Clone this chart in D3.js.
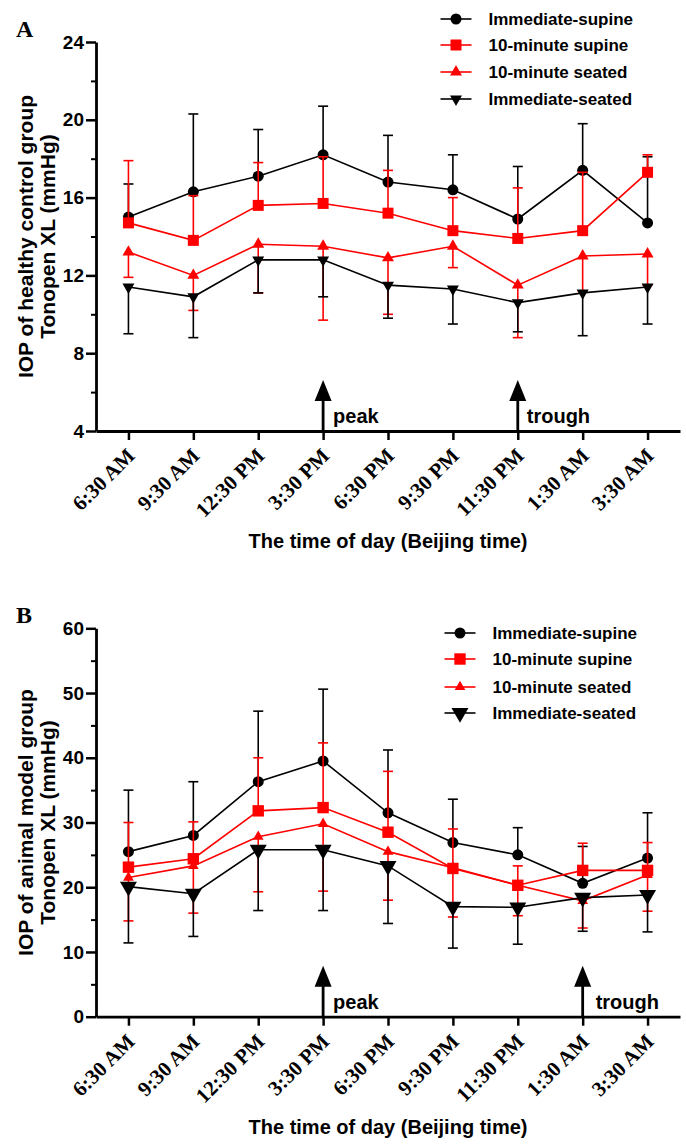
<!DOCTYPE html>
<html>
<head>
<meta charset="utf-8">
<script src="https://cdn.jsdelivr.net/npm/d3@7"></script>
<style>
  body { margin: 0; background: #fff; }
  svg { display: block; }
</style>
</head>
<body>
<svg id="chart" width="686" height="1146"></svg>
<script>
// ---- data ----
const timeLabels = ['6:30 AM', '9:30 AM', '12:30 PM', '3:30 PM', '6:30 PM', '9:30 PM', '11:30 PM', '1:30 AM', '3:30 AM'];
const seriesNames = ['Immediate-supine', '10-minute supine', '10-minute seated', 'Immediate-seated'];

// A: healthy control group (mean, SD)
const healthyImmSupine = [15.0, 16.3, 17.1, 18.2, 16.8, 16.4, 14.9, 17.4, 14.7];
const healthyImmSupineSD = [1.7, 4.0, 2.4, 2.5, 2.4, 1.8, 2.7, 2.4, 3.4];
const healthySupine10 = [14.7, 13.8, 15.6, 15.7, 15.2, 14.3, 13.9, 14.3, 17.3];
const healthySupine10SD = [3.2, 2.3, 2.2, 2.4, 2.2, 1.7, 2.6, 3.0, 0.9];
const healthySeated10 = [13.2, 12.0, 13.6, 13.5, 12.9, 13.5, 11.5, 13.0, 13.1];
const healthySeated10SD = [1.3, 1.8, 2.5, 3.8, 2.9, 1.1, 2.7, 1.8, 1.6];
const healthyImmSeated = [11.4, 10.9, 12.8, 12.8, 11.5, 11.3, 10.6, 11.1, 11.4];
const healthyImmSeatedSD = [2.4, 2.1, 1.7, 1.9, 1.7, 1.8, 1.5, 2.2, 1.9];
const healthyYTicks = [4, 8, 12, 16, 20, 24];
const healthyMarks = [{ text: 'peak', at: '3:30 PM' }, { text: 'trough', at: '11:30 PM' }];

// B: animal model group (mean, SD)
const animalImmSupine = [25.5, 28.0, 36.3, 39.5, 31.5, 26.9, 25.0, 20.6, 24.5];
const animalImmSupineSD = [9.5, 8.3, 10.9, 11.1, 9.7, 6.7, 4.2, 5.7, 7.0];
const animalSupine10 = [23.1, 24.4, 31.8, 32.3, 28.5, 22.9, 20.3, 22.6, 22.6];
const animalSupine10SD = [6.9, 5.7, 8.2, 10.0, 9.4, 6.1, 3.0, 4.2, 4.3];
const animalSeated10 = [21.5, 23.3, 27.8, 29.8, 25.5, 23.0, 20.3, 17.9, 21.9];
const animalSeated10SD = [6.7, 7.3, 8.5, 10.4, 7.5, 7.6, 4.7, 4.2, 5.6];
const animalImmSeated = [20.1, 19.0, 25.8, 25.8, 23.3, 17.0, 16.9, 18.4, 18.8];
const animalImmSeatedSD = [8.7, 6.6, 9.4, 9.4, 8.9, 6.4, 5.7, 5.2, 5.7];
const animalYTicks = [0, 10, 20, 30, 40, 50, 60];
const animalMarks = [{ text: 'peak', at: '3:30 PM' }, { text: 'trough', at: '1:30 AM' }];

// ---- styles ----
const SANS = '"Liberation Sans", Arial, Helvetica, sans-serif';
const SERIF = '"Liberation Serif", "Times New Roman", serif';
const RED = '#ff0000';

const svg = d3.select('#chart');
svg.append('rect').attr('width', 686).attr('height', 1146).attr('fill', '#fff');

const xScale = d3.scalePoint().domain(timeLabels).range([96, 680]).padding(0.5);

function markerPath(kind, size) {
  const type = kind === 'circle' ? d3.symbolCircle : kind === 'square' ? d3.symbolSquare : d3.symbolTriangle;
  return d3.symbol().type(type).size(size)();
}

function drawPanel(cfg) {
  const g = svg.append('g').attr('class', 'panel-' + cfg.label);
  const yScale = d3.scaleLinear().domain(d3.extent(cfg.yTicks)).range([cfg.bottom, cfg.top]);

  // panel letter
  g.append('text')
    .attr('x', 16).attr('y', cfg.top - 5)
    .style('font-family', SERIF).style('font-weight', 'bold').style('font-size', '24px')
    .text(cfg.label);

  // y axis minor ticks
  g.append('g')
    .attr('transform', 'translate(96,0)')
    .call(d3.axisLeft(yScale).tickValues(cfg.minorTicks).tickSize(5).tickSizeOuter(0).tickFormat(''))
    .call(a => a.select('.domain').remove())
    .call(a => a.selectAll('line').attr('stroke-width', 2));

  // y axis
  g.append('g')
    .attr('transform', 'translate(96,0)')
    .call(d3.axisLeft(yScale).tickValues(cfg.yTicks).tickSize(10).tickSizeOuter(0).tickPadding(2))
    .call(a => a.select('.domain').attr('stroke-width', 2.8))
    .call(a => a.selectAll('line').attr('stroke-width', 2.5))
    .call(a => a.selectAll('text')
      .style('font-family', SANS).style('font-weight', 'bold').style('font-size', '19px').attr('fill', '#000'));

  // x axis
  g.append('g')
    .attr('transform', `translate(0,${cfg.bottom})`)
    .call(d3.axisBottom(xScale).tickSize(9).tickSizeOuter(0))
    .call(a => a.select('.domain').attr('stroke-width', 2.8))
    .call(a => a.selectAll('line').attr('stroke-width', 2.5))
    .call(a => a.selectAll('text')
      .attr('y', 0).attr('dy', 0)
      .attr('text-anchor', 'end')
      .attr('transform', 'translate(7,26) rotate(-45)')
      .style('font-family', SERIF).style('font-weight', 'bold').style('font-size', '21px').attr('fill', '#000'));

  // axis titles
  const midY = (cfg.top + cfg.bottom) / 2;
  cfg.yTitle.forEach((line, i) => {
    g.append('text')
      .attr('transform', `translate(${33 + i * 22},${midY}) rotate(-90)`)
      .attr('text-anchor', 'middle')
      .style('font-family', SANS).style('font-weight', 'bold').style('font-size', '21px')
      .text(line);
  });
  g.append('text')
    .attr('x', 388).attr('y', cfg.bottom + 117)
    .attr('text-anchor', 'middle')
    .style('font-family', SANS).style('font-weight', 'bold').style('font-size', '20px')
    .text('The time of day (Beijing time)');

  // peak / trough arrows
  cfg.marks.forEach(m => {
    const ax = xScale(m.at);
    const tip = cfg.bottom - 51;
    g.append('line')
      .attr('x1', ax).attr('x2', ax).attr('y1', cfg.bottom).attr('y2', tip + 16)
      .attr('stroke', '#000').attr('stroke-width', 2.8);
    g.append('path')
      .attr('d', `M${ax},${tip} L${ax - 8.5},${tip + 21} L${ax + 8.5},${tip + 21} Z`)
      .attr('fill', '#000');
    g.append('text')
      .attr('x', ax + (m.dx || 10)).attr('y', cfg.bottom - 8)
      .style('font-family', SANS).style('font-weight', 'bold').style('font-size', '20px')
      .text(m.text);
  });

  // series: error bars, line, markers
  cfg.series.forEach(s => {
    const sg = g.append('g');
    const pts = s.values.map((v, i) => ({ x: xScale(timeLabels[i]), v, sd: s.sd[i] }));

    sg.selectAll('.err').data(pts).join('line')
      .attr('x1', d => d.x).attr('x2', d => d.x)
      .attr('y1', d => yScale(d.v))
      .attr('y2', d => yScale(d.v + s.dir * d.sd))
      .attr('stroke', s.color).attr('stroke-width', 1.6);
    sg.selectAll('.cap').data(pts).join('line')
      .attr('x1', d => d.x - 5).attr('x2', d => d.x + 5)
      .attr('y1', d => yScale(d.v + s.dir * d.sd))
      .attr('y2', d => yScale(d.v + s.dir * d.sd))
      .attr('stroke', s.color).attr('stroke-width', 1.6);

    sg.append('path')
      .datum(pts)
      .attr('d', d3.line().x(d => d.x).y(d => yScale(d.v)))
      .attr('fill', 'none').attr('stroke', s.color).attr('stroke-width', 1.6);

    sg.selectAll('.mk').data(pts).join('path')
      .attr('d', markerPath(s.shape, s.size))
      .attr('transform', d => `translate(${d.x},${yScale(d.v)})${s.flip ? ' rotate(180)' : ''}`)
      .attr('fill', s.color);
  });

  // legend
  cfg.series.forEach((s, i) => {
    const ly = cfg.legendY[i];
    const lx = cfg.legendX;
    g.append('line')
      .attr('x1', lx - 15.5).attr('x2', lx + 15.5).attr('y1', ly).attr('y2', ly)
      .attr('stroke', s.color).attr('stroke-width', 1.6);
    g.append('path')
      .attr('d', markerPath(s.shape, s.legendSize || s.size))
      .attr('transform', `translate(${lx},${ly})${s.flip ? ' rotate(180)' : ''}`)
      .attr('fill', s.color);
    g.append('text')
      .attr('x', lx + 32.5).attr('y', ly).attr('dy', '0.36em')
      .style('font-family', SANS).style('font-weight', 'bold').style('font-size', '17px')
      .text(seriesNames[i]);
  });
}

drawPanel({
  label: 'A', top: 42, bottom: 431,
  yTicks: healthyYTicks, minorTicks: [6, 10, 14, 18, 22],
  yTitle: ['IOP of healthy control group', 'Tonopen XL (mmHg)'],
  marks: [{ ...healthyMarks[0], dx: 10 }, { ...healthyMarks[1], dx: 9 }],
  legendX: 456, legendY: [19, 45, 72, 99],
  series: [
    { values: healthyImmSupine, sd: healthyImmSupineSD, color: '#000', shape: 'circle', size: 95, dir: 1 },
    { values: healthySupine10, sd: healthySupine10SD, color: RED, shape: 'square', size: 121, dir: 1 },
    { values: healthySeated10, sd: healthySeated10SD, color: RED, shape: 'triangle', size: 62, dir: -1 },
    { values: healthyImmSeated, sd: healthyImmSeatedSD, color: '#000', shape: 'triangle', size: 62, dir: -1, flip: true }
  ]
});

drawPanel({
  label: 'B', top: 628.3, bottom: 1016.7,
  yTicks: animalYTicks, minorTicks: [5, 15, 25, 35, 45, 55],
  yTitle: ['IOP of animal model group', 'Tonopen XL (mmHg)'],
  marks: [{ ...animalMarks[0], dx: 10 }, { ...animalMarks[1], dx: 13 }],
  legendX: 460, legendY: [633, 659, 687, 713],
  series: [
    { values: animalImmSupine, sd: animalImmSupineSD, color: '#000', shape: 'circle', size: 95, dir: 1 },
    { values: animalSupine10, sd: animalSupine10SD, color: RED, shape: 'square', size: 130, dir: 1 },
    { values: animalSeated10, sd: animalSeated10SD, color: RED, shape: 'triangle', size: 50, dir: -1 },
    { values: animalImmSeated, sd: animalImmSeatedSD, color: '#000', shape: 'triangle', size: 125, dir: -1, flip: true }
  ]
});
</script>
</body>
</html>
